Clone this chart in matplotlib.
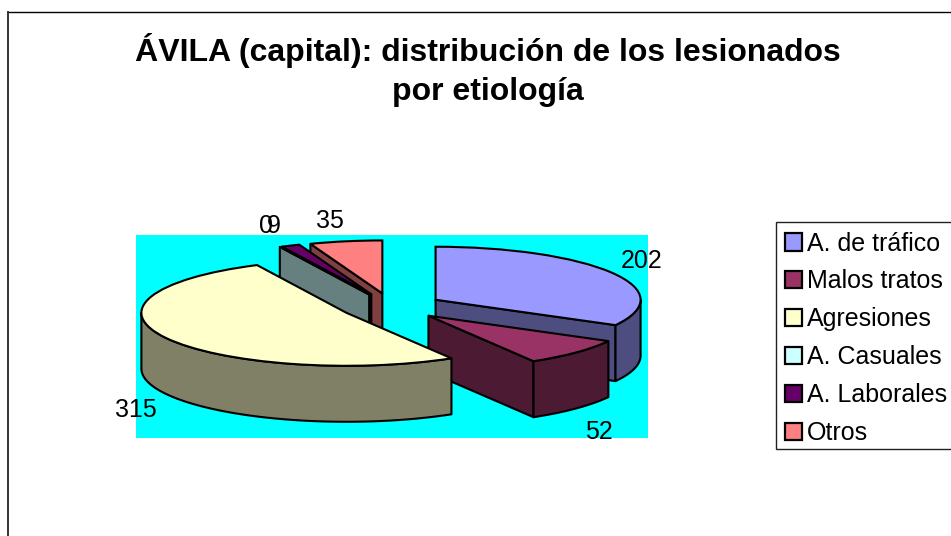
import numpy as np
import matplotlib
matplotlib.use("Agg")
import matplotlib.pyplot as plt
from matplotlib.lines import Line2D
from matplotlib.patches import Patch, Rectangle

plt.rcParams['font.family'] = ['Liberation Sans', 'DejaVu Sans']

title_lines = ["ÁVILA (capital): distribución de los lesionados", "por etiología"]
categories = ["A. de tráfico", "Malos tratos", "Agresiones", "A. Casuales", "A. Laborales", "Otros"]
values = [202, 52, 315, 0, 9, 35]
top_colors = ["#9999FF", "#993366", "#FFFFCC", "#CCFFFF", "#660066", "#FF8080"]
side_colors = ["#4D4D80", "#4D1A33", "#808066", "#668080", "#330033", "#804040"]

W, H = 951, 536
# pie geometry, in pixels
cx, cy = 391.5, 306.5
rx, ry = 205, 53
depth = 56 / ry
explode = 0.25
lw = 1.5

# back to front
draw_order = [5, 4, 3, 0, 1, 2]


def fx(px):
    return px / W


def fy(py):
    return 1 - py / H


def rim(a1, a2, n=60):
    t = np.radians(np.linspace(a1, a2, n))
    return np.sin(t), np.cos(t)


def draw_walls(ax, apex_x, apex_y, a1, a2, color, z):
    # a1, a2 are degrees clockwise from north
    for a, visible in ((a1, np.sin(np.radians(a1)) < -1e-9), (a2, np.sin(np.radians(a2)) > 1e-9)):
        if visible:
            ex = apex_x + np.sin(np.radians(a))
            ey = apex_y + np.cos(np.radians(a))
            ax.fill([apex_x, ex, ex, apex_x], [apex_y, ey, ey - depth, apex_y - depth],
                    facecolor=color, edgecolor='black', linewidth=lw, zorder=z, joinstyle='round')
    lo, hi = max(a1, 90), min(a2, 270)
    if hi > lo:
        sx, sy = rim(lo, hi)
        xs = np.concatenate([apex_x + sx, (apex_x + sx)[::-1]])
        ys = np.concatenate([apex_y + sy, (apex_y + sy - depth)[::-1]])
        ax.fill(xs, ys, facecolor=color, edgecolor='black', linewidth=lw, zorder=z, joinstyle='round')


fig = plt.figure(figsize=(W / 100, H / 100), dpi=100)
ax = fig.add_axes([0, 0, 1, 1])

wedges, _ = ax.pie(values, explode=[explode] * len(values), startangle=90, counterclock=False,
                   colors=top_colors, wedgeprops=dict(edgecolor='black', linewidth=lw))
ax.set_aspect('auto')
ax.set_xlim(-cx / rx, (W - cx) / rx)
ax.set_ylim((cy - H) / ry, cy / ry)

total = sum(values)
edges = np.concatenate([[0], np.cumsum(values)]) / total * 360
for order, i in enumerate(draw_order):
    a1, a2 = edges[i], edges[i + 1]
    mid = np.radians((a1 + a2) / 2)
    draw_walls(ax, explode * np.sin(mid), explode * np.cos(mid), a1, a2, side_colors[i], 2 + order)
    wedges[i].set_zorder(2.5 + order)

# plot area behind the pie
fig.add_artist(Rectangle((fx(136), fy(437.5)), fx(648 - 136), (437.5 - 235) / H,
                         transform=fig.transFigure, facecolor='#00FFFF', edgecolor='none', zorder=-1))
ax.patch.set_visible(False)
fig.patch.set_facecolor('white')

# outer chart border, only top and left fit in the picture
fig.add_artist(Line2D([fx(8), 1], [fy(11.7), fy(11.7)], color='black', linewidth=1.0))
fig.add_artist(Line2D([fx(8), fx(8)], [fy(11.7), 0], color='#333333', linewidth=1.4))

fig.text(fx(488), fy(60.5), title_lines[0], fontsize=23, fontweight='bold', ha='center', va='baseline')
fig.text(fx(488), fy(100), title_lines[1], fontsize=23, fontweight='bold', ha='center', va='baseline')

# data labels, baselines in pixels
label_x = [641.5, 598.5, 136, 265.5, 274, 330]
label_y = [268, 439, 417, 233, 233, 228]
for v, lx, ly in zip(values, label_x, label_y):
    fig.text(fx(lx), fy(ly), str(v), fontsize=18, ha='center', va='baseline', zorder=20)

# legend frame runs past the right edge of the picture
fig.add_artist(Rectangle((fx(776), fy(449)), fx(190), (449 - 222) / H, transform=fig.transFigure,
                         facecolor='white', edgecolor='#222222', linewidth=1.0, zorder=5))
handles = [Patch(facecolor=c, edgecolor='black', linewidth=1.6) for c in top_colors]
leg = fig.legend(handles, categories, loc='upper left', bbox_to_anchor=(fx(776), fy(223)),
                 bbox_transform=fig.transFigure, borderaxespad=0, fontsize=18, frameon=False,
                 borderpad=0.34, handlelength=0.7, handleheight=0.7,
                 handletextpad=0.2, labelspacing=0.558)
leg.set_zorder(6)

fig.savefig("out.png", dpi=100)
